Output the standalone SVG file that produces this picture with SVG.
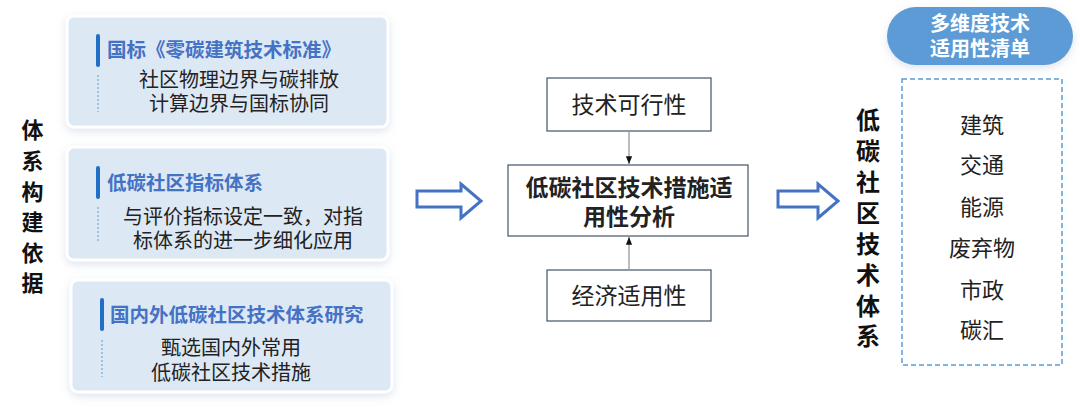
<svg xmlns="http://www.w3.org/2000/svg" width="1080" height="415" viewBox="0 0 1080 415">
<style>
.cjk{font-family:"Liberation Sans","Noto Sans CJK SC",sans-serif}
.card{fill:#dde8f5;stroke:#ffffff;stroke-width:3}
.bar{fill:#1f6fc5}
.dot{stroke:#5b9bd5;stroke-width:1;stroke-dasharray:2,2}
.ttl{font-size:19.5px;font-weight:bold;fill:#4472c4}
.body{font-size:20px;fill:#222;text-anchor:middle}
.vlab{font-weight:bold;fill:#111;writing-mode:vertical-rl}
.box{fill:#fff;stroke:#44546a;stroke-width:1.2}
.btxt{font-size:23px;fill:#222;text-anchor:middle}
.hollow{fill:#fff;stroke:#4472c4;stroke-width:3;stroke-linejoin:miter}
.conn{stroke:#999;stroke-width:1.3;fill:none}
.item{font-size:22px;fill:#222;text-anchor:middle}
</style>
<defs>
<filter id="sh" x="-10%" y="-20%" width="120%" height="140%">
<feDropShadow dx="0" dy="3" stdDeviation="4" flood-color="#9fb3cf" flood-opacity="0.35"/>
</filter>
<marker id="ah" viewBox="0 0 10 10" refX="10" refY="5" markerWidth="6" markerHeight="6" orient="auto">
<path d="M0,1 L10,5 L0,9 Z" fill="#111"/>
</marker>
</defs>
<rect width="1080" height="415" fill="#ffffff"/>

<g id="label-left" class="cjk">
<text class="vlab" x="30" y="119" font-size="22" letter-spacing="8.6">体系构建依据</text>
</g>

<g id="card1" class="cjk">
<rect class="card" x="67" y="16" width="321" height="111" rx="7" filter="url(#sh)"/>
<rect class="bar" x="96" y="34" width="4" height="33" rx="2"/>
<line class="dot" x1="98" y1="75" x2="98" y2="112"/>
<text class="ttl" x="107" y="57">国标《零碳建筑技术标准》</text>
<text class="body" x="239" y="87">社区物理边界与碳排放<tspan x="239" dy="23.5">计算边界与国标协同</tspan></text>
</g>

<g id="card2" class="cjk">
<rect class="card" x="67" y="147" width="321" height="113" rx="7" filter="url(#sh)"/>
<rect class="bar" x="96" y="166" width="4" height="33" rx="2"/>
<line class="dot" x1="98" y1="207" x2="98" y2="243"/>
<text class="ttl" x="107" y="190">低碳社区指标体系</text>
<text class="body" x="243" y="224">与评价指标设定一致，对指<tspan x="243" dy="24">标体系的进一步细化应用</tspan></text>
</g>

<g id="card3" class="cjk">
<rect class="card" x="71" y="280" width="321" height="112" rx="7" filter="url(#sh)"/>
<rect class="bar" x="100" y="298" width="4" height="33" rx="2"/>
<line class="dot" x1="102" y1="340" x2="102" y2="377"/>
<text class="ttl" x="110" y="322">国内外低碳社区技术体系研究</text>
<text class="body" x="231" y="355">甄选国内外常用<tspan x="231" dy="25">低碳社区技术措施</tspan></text>
</g>

<g id="arrow-left">
<path class="hollow" d="M417,191 L461,191 L461,184 L481,201 L461,218 L461,207 L417,207 Z"/>
</g>

<g id="box-tech" class="cjk">
<rect class="box" x="547" y="78" width="164" height="53"/>
<text class="btxt" x="629" y="113">技术可行性</text>
</g>

<g id="box-main" class="cjk">
<rect class="box" x="508" y="165" width="240" height="71"/>
<text class="btxt" x="629" y="196" font-weight="bold">低碳社区技术措施适<tspan x="629" dy="29">用性分析</tspan></text>
</g>

<g id="box-econ" class="cjk">
<rect class="box" x="547" y="270" width="164" height="51"/>
<text class="btxt" x="629" y="304">经济适用性</text>
</g>

<g id="connectors">
<line class="conn" x1="629" y1="131" x2="629" y2="164" marker-end="url(#ah)"/>
<line class="conn" x1="629" y1="270" x2="629" y2="237" marker-end="url(#ah)"/>
</g>

<g id="arrow-right">
<path class="hollow" d="M778,191 L818,191 L818,184 L838,201 L818,218 L818,207 L778,207 Z"/>
</g>

<g id="label-right" class="cjk">
<text class="vlab" x="866" y="108" font-size="24" letter-spacing="6.9">低碳社区技术体系</text>
</g>

<g id="pill" class="cjk">
<rect x="887" y="7" width="186" height="58" rx="29" fill="#5b9bd5" filter="url(#sh)"/>
<text x="980" y="31" font-size="20" font-weight="bold" fill="#fff" text-anchor="middle">多维度技术<tspan x="980" dy="25">适用性清单</tspan></text>
</g>

<g id="list" class="cjk">
<rect x="902" y="79" width="160" height="286" fill="none" stroke="#5b9bd5" stroke-width="1.5" stroke-dasharray="5,3"/>
<text class="item" x="982" y="133">建筑</text>
<text class="item" x="982" y="173">交通</text>
<text class="item" x="982" y="215">能源</text>
<text class="item" x="982" y="256">废弃物</text>
<text class="item" x="982" y="298">市政</text>
<text class="item" x="982" y="338">碳汇</text>
</g>
</svg>
